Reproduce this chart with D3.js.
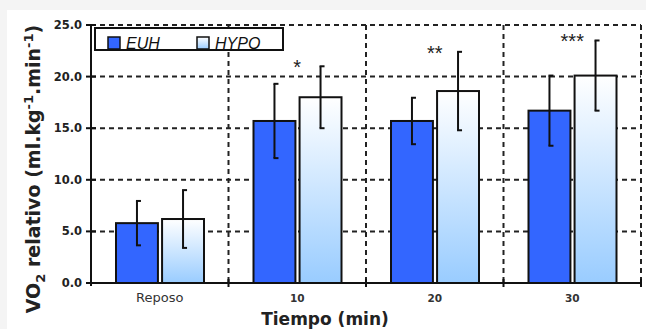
<!DOCTYPE html>
<html>
<head>
<meta charset="utf-8">
<script src="https://cdn.jsdelivr.net/npm/d3@7"></script>
<style>
  html, body { margin: 0; padding: 0; background: #f4f4f4; }
  svg { display: block; }
</style>
</head>
<body>
<svg id="chart" width="646" height="329"></svg>
<script>
// data
var categories = ["Reposo", "10", "20", "30"];
var series = ["EUH", "HYPO"];
var euhMean = [5.8, 15.7, 15.7, 16.7];
var euhErr = [2.15, 3.6, 2.25, 3.4];
var hypoMean = [6.2, 18.0, 18.6, 20.1];
var hypoErr = [2.8, 3.0, 3.8, 3.4];
var signif = ["", "*", "**", "***"];
var yTicks = [0, 5, 10, 15, 20, 25];

var W = 646, H = 329;
var plotL = 91, plotR = 641, plotT = 25, plotB = 283;

var svg = d3.select("#chart");

// white panel (grey strip on top / left)
svg.append("rect").attr("x", 7).attr("y", 10).attr("width", W - 7).attr("height", H - 10).attr("fill", "#fff");

var defs = svg.append("defs");
var grad = defs.append("linearGradient").attr("id", "hypoGrad")
  .attr("x1", 0).attr("y1", 0).attr("x2", 0).attr("y2", 1);
grad.append("stop").attr("offset", "0%").attr("stop-color", "#ffffff");
grad.append("stop").attr("offset", "100%").attr("stop-color", "#99ccff");

var x = d3.scaleBand().domain(categories).range([plotL, plotR]).padding(0);
var xs = d3.scaleBand().domain(series).range([25, 113]).paddingInner(0.09);
var y = d3.scaleLinear().domain([0, 25]).range([plotB, plotT]);

var rows = categories.map(function (c, i) {
  return {
    cat: c,
    sig: signif[i],
    vals: [
      { s: "EUH", m: euhMean[i], e: euhErr[i] },
      { s: "HYPO", m: hypoMean[i], e: hypoErr[i] }
    ]
  };
});

/************************* GRID ******************************/

var dash = "5,4";
svg.append("g").selectAll("line").data(yTicks.filter(function (d) { return d > 0; }))
  .enter().append("line")
  .attr("x1", plotL).attr("x2", plotR)
  .attr("y1", function (d) { return y(d); }).attr("y2", function (d) { return y(d); })
  .attr("stroke", "#222").attr("stroke-width", 2).attr("stroke-dasharray", dash);

svg.append("g").selectAll("line").data(categories)
  .enter().append("line")
  .attr("x1", function (d) { return x(d) + x.bandwidth(); })
  .attr("x2", function (d) { return x(d) + x.bandwidth(); })
  .attr("y1", plotT).attr("y2", plotB)
  .attr("stroke", "#222").attr("stroke-width", 2).attr("stroke-dasharray", dash);

/************************* BARS ******************************/

var groups = svg.append("g").selectAll("g").data(rows).enter().append("g")
  .attr("transform", function (d) { return "translate(" + x(d.cat) + ",0)"; });

groups.selectAll("rect").data(function (d) { return d.vals; })
  .enter().append("rect")
  .attr("x", function (d) { return xs(d.s); })
  .attr("y", function (d) { return y(d.m); })
  .attr("width", xs.bandwidth())
  .attr("height", function (d) { return y(0) - y(d.m); })
  .attr("fill", function (d) { return d.s == "EUH" ? "#3366ff" : "url(#hypoGrad)"; })
  .attr("stroke", "#111").attr("stroke-width", 2);

// error bars
var eb = groups.selectAll("g.err").data(function (d) { return d.vals; })
  .enter().append("g").attr("class", "err")
  .attr("transform", function (d) { return "translate(" + (xs(d.s) + xs.bandwidth() / 2) + ",0)"; });
eb.append("line")
  .attr("x1", 0).attr("x2", 0)
  .attr("y1", function (d) { return y(d.m + d.e); })
  .attr("y2", function (d) { return y(d.m - d.e); })
  .attr("stroke", "#111").attr("stroke-width", 2);
eb.selectAll("line.cap").data(function (d) { return [d.m + d.e, d.m - d.e]; })
  .enter().append("line").attr("class", "cap")
  .attr("x1", -1).attr("x2", 4)
  .attr("y1", function (v) { return y(v); }).attr("y2", function (v) { return y(v); })
  .attr("stroke", "#111").attr("stroke-width", 2);

// significance stars
groups.append("text")
  .attr("x", x.bandwidth() / 2)
  .attr("y", function (d) { return y(d.vals[1].m + d.vals[1].e) + 8; })
  .attr("text-anchor", "middle")
  .attr("font-family", "Liberation Sans, Arial, sans-serif")
  .attr("font-size", 20)
  .attr("fill", "#222")
  .text(function (d) { return d.sig; });

/************************* AXES ******************************/

// y axis
svg.append("line").attr("x1", plotL).attr("x2", plotL).attr("y1", plotT).attr("y2", plotB + 3)
  .attr("stroke", "#111").attr("stroke-width", 2);
svg.append("g").selectAll("line").data(yTicks).enter().append("line")
  .attr("x1", plotL - 5).attr("x2", plotL + 5)
  .attr("y1", function (d) { return y(d); }).attr("y2", function (d) { return y(d); })
  .attr("stroke", "#111").attr("stroke-width", 2);
svg.append("g").selectAll("text").data(yTicks).enter().append("text")
  .attr("x", plotL - 9)
  .attr("y", function (d) { return y(d) + 4; })
  .attr("text-anchor", "end")
  .attr("font-family", "DejaVu Sans, Verdana, sans-serif")
  .attr("font-weight", "bold").attr("font-size", 11.5)
  .attr("fill", "#222")
  .text(function (d) { return d3.format(".1f")(d); });

// x axis
svg.append("line").attr("x1", plotL - 4).attr("x2", plotR + 1).attr("y1", plotB).attr("y2", plotB)
  .attr("stroke", "#111").attr("stroke-width", 2);
svg.append("g").selectAll("line").data(categories).enter().append("line")
  .attr("x1", function (d) { return x(d) + x.bandwidth(); })
  .attr("x2", function (d) { return x(d) + x.bandwidth(); })
  .attr("y1", plotB - 4).attr("y2", plotB + 4)
  .attr("stroke", "#111").attr("stroke-width", 2);
svg.append("g").selectAll("text").data(categories).enter().append("text")
  .attr("x", function (d) { return x(d) + x.bandwidth() / 2; })
  .attr("y", 302)
  .attr("text-anchor", "middle")
  .attr("font-family", "DejaVu Sans, Verdana, sans-serif")
  .attr("font-weight", function (d, i) { return i == 0 ? "normal" : "bold"; })
  .attr("font-size", function (d, i) { return i == 0 ? 13 : 10.5; })
  .attr("fill", "#333")
  .text(function (d) { return d; });

// titles
svg.append("text")
  .attr("x", 325).attr("y", 325)
  .attr("text-anchor", "middle")
  .attr("font-family", "DejaVu Sans, Verdana, sans-serif")
  .attr("font-weight", "bold").attr("font-size", 17)
  .attr("fill", "#222")
  .text("Tiempo (min)");

var yt = svg.append("text")
  .attr("transform", "translate(40,169) rotate(-90)")
  .attr("text-anchor", "middle")
  .attr("font-family", "DejaVu Sans, Verdana, sans-serif")
  .attr("font-weight", "bold").attr("font-size", 19)
  .attr("fill", "#222");
yt.append("tspan").text("VO");
yt.append("tspan").attr("dy", 5).attr("font-size", 13).text("2");
yt.append("tspan").attr("dy", -5).text(" relativo  (ml.kg");
yt.append("tspan").attr("dy", -7).attr("font-size", 13).text("-1");
yt.append("tspan").attr("dy", 7).text(".min");
yt.append("tspan").attr("dy", -7).attr("font-size", 13).text("-1");
yt.append("tspan").attr("dy", 7).text(")");

/************************* LEGEND ******************************/

var lg = svg.append("g");
lg.append("rect").attr("x", 95).attr("y", 28).attr("width", 188).attr("height", 22)
  .attr("fill", "#fff").attr("stroke", "#111").attr("stroke-width", 2);
var items = lg.selectAll("g").data(series).enter().append("g")
  .attr("transform", function (d, i) { return "translate(" + (108 + i * 89) + ",37)"; });
items.append("rect").attr("width", 12).attr("height", 12)
  .attr("fill", function (d) { return d == "EUH" ? "#3366ff" : "url(#hypoGrad)"; })
  .attr("stroke", "#111").attr("stroke-width", 1.5);
items.append("text").attr("x", 18).attr("y", 12)
  .attr("font-family", "Liberation Sans, Arial, sans-serif")
  .attr("font-style", "italic").attr("font-size", 16)
  .attr("fill", "#111")
  .text(function (d) { return d; });
</script>
</body>
</html>
